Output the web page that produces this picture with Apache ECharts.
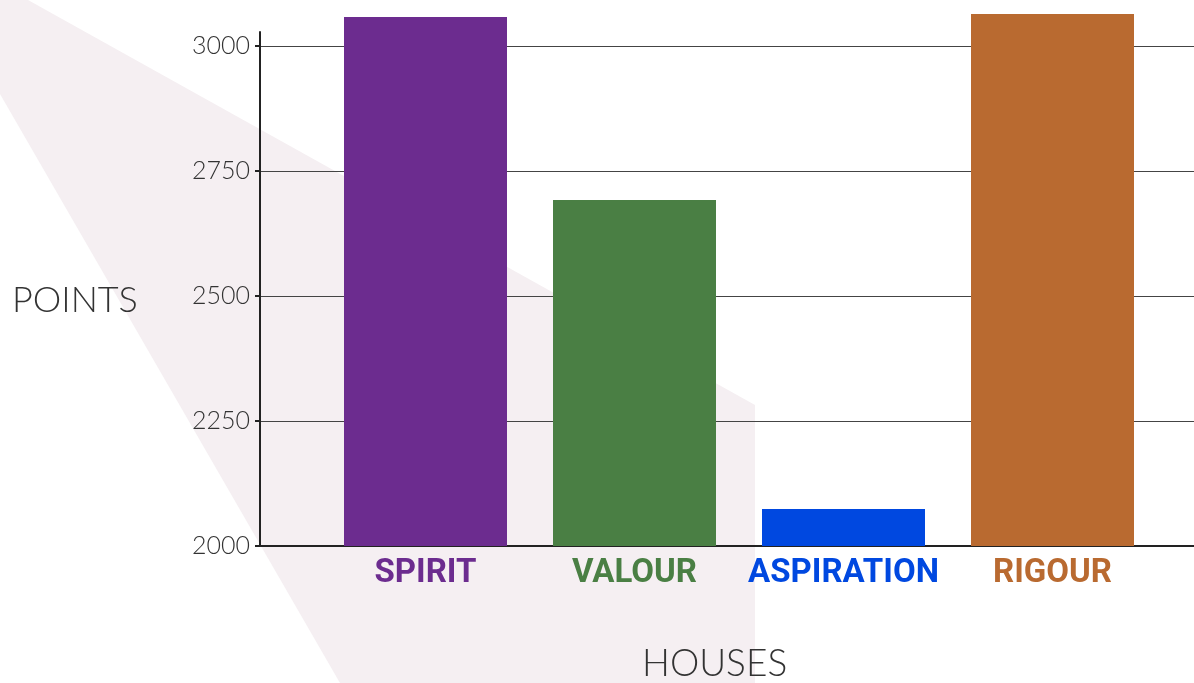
<!DOCTYPE html>
<html><head><meta charset="utf-8">
<script src="https://cdn.jsdelivr.net/npm/echarts@6/dist/echarts.min.js"></script>
<style>html,body{margin:0;padding:0;background:#fff}#c{width:1194px;height:683px}</style>
</head><body><div id="c"></div>
<script>
const houses = ['SPIRIT', 'VALOUR', 'ASPIRATION', 'RIGOUR'];
const points = [3058, 2692, 2074, 3064];
const houseColors = ['#6c2c8f', '#4a7f44', '#0048e0', '#b96a30'];
const yTicks = [2000, 2250, 2500, 2750, 3000];
const yMin = 2000, yMax = 3028, yStep = 250;
const barAxisMax = 3092;

const chart = echarts.init(document.getElementById('c'), null, {renderer: 'canvas'});
const thin = 'Lato';
chart.setOption({
  animation: false,
  backgroundColor: '#fff',
  graphic: [{
    type: 'polygon', z: -10, silent: true,
    shape: {points: [[28, 0], [755, 405], [755, 683], [340, 683], [0, 94], [0, 0]]},
    style: {fill: '#f5eff2'}
  }],
  title: [
    {text: 'POINTS', left: 7, top: 277, textStyle: {fontFamily: thin, fontWeight: 300, fontSize: 36, color: '#333'}},
    {text: 'HOUSES', left: 637, top: 641, textStyle: {fontFamily: thin, fontWeight: 300, fontSize: 37, color: '#333'}}
  ],
  grid: [
    {left: 260, right: 0, top: 32, bottom: 137},
    {left: 321, width: 836, top: 0, bottom: 137}
  ],
  xAxis: [
    {gridIndex: 0, type: 'category', data: [''], axisLine: {show: true, lineStyle: {color: '#222', width: 2}},
     axisTick: {show: false}, axisLabel: {show: false}, splitLine: {show: false}},
    {gridIndex: 1, type: 'category', data: houses.map((h, i) => ({value: h, textStyle: {color: houseColors[i]}})),
     axisLine: {show: false}, axisTick: {show: false},
     axisLabel: {interval: 0, margin: 11, fontFamily: 'Roboto', fontWeight: 'bold', fontSize: 33}}
  ],
  yAxis: [
    {gridIndex: 0, type: 'value', min: yMin, max: yMax, interval: yStep,
     axisLine: {show: true, lineStyle: {color: '#222', width: 2}},
     axisTick: {show: true, length: 5, lineStyle: {color: '#222', width: 2}, customValues: yTicks},
     axisLabel: {margin: 10, fontFamily: thin, fontWeight: 300, fontSize: 25, color: '#333', customValues: yTicks,
                 formatter: v => String(v)},
     splitLine: {show: true, lineStyle: {color: '#444', width: 1}}},
    {gridIndex: 1, type: 'value', min: yMin, max: barAxisMax, show: false, splitLine: {show: false}}
  ],
  series: [{
    type: 'bar', xAxisIndex: 1, yAxisIndex: 1, barWidth: 163,
    data: points.map((v, i) => ({value: v, itemStyle: {color: houseColors[i]}}))
  }]
});
</script></body></html>
